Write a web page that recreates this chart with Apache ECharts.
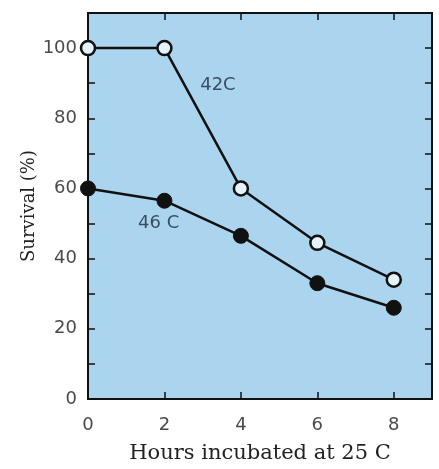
<!DOCTYPE html>
<html><head><meta charset="utf-8">
<script src="https://cdn.jsdelivr.net/npm/echarts@6/dist/echarts.min.js"></script>
<style>html,body{margin:0;padding:0;background:#fff}#c{width:439px;height:469px}</style>
</head><body><div id="c"></div>
<script>
var hours = [0, 2, 4, 6, 8];
var survival42 = [100, 100, 60, 44.5, 34];
var survival46 = [60, 56.5, 46.5, 33, 26];
var yTickLabels = [0, 20, 40, 60, 80, 100];
var xTickLabels = [0, 2, 4, 6, 8];
var seriesNotes = [
  {text: '42C', x: 3.4, y: 89.5},
  {text: '46 C', x: 1.85, y: 50}
];

var chart = echarts.init(document.getElementById('c'));
function tickStyle() { return {show: true, inside: true, length: 7, lineStyle: {color: '#111', width: 1.5}}; }
function lineAx() { return {show: true, onZero: false, lineStyle: {color: '#111', width: 2}}; }
chart.setOption({
  animation: false,
  grid: {left: 88, right: 7, top: 13, bottom: 63, show: true, backgroundColor: '#abd4ee', borderColor: '#111', borderWidth: 2},
  xAxis: [{
    type: 'value', min: 0, max: 9, interval: 2,
    axisLine: lineAx(), axisTick: tickStyle(), splitLine: {show: false},
    axisLabel: {margin: 17, fontFamily: 'DejaVu Sans', fontSize: 18, color: '#4a4a4a',
      formatter: function (v) { return xTickLabels.indexOf(v) >= 0 ? String(v) : ''; }},
    name: 'Hours incubated at 25 C', nameLocation: 'middle', nameGap: 44, nameMoveOverlap: false,
    nameTextStyle: {fontFamily: 'DejaVu Serif', fontSize: 21, color: '#222'}
  }, {
    type: 'value', position: 'top', min: 0, max: 9, interval: 2,
    axisLine: lineAx(), axisTick: tickStyle(), axisLabel: {show: false}, splitLine: {show: false}
  }],
  yAxis: [{
    type: 'value', min: 0, max: 110, interval: 10,
    axisLine: lineAx(), axisTick: tickStyle(), splitLine: {show: false},
    axisLabel: {margin: 11, fontFamily: 'DejaVu Sans', fontSize: 18, color: '#4a4a4a',
      formatter: function (v) { return yTickLabels.indexOf(v) >= 0 ? String(v) : ''; }},
    name: 'Survival (%)', nameLocation: 'middle', nameGap: 50, nameMoveOverlap: false,
    nameTextStyle: {fontFamily: 'DejaVu Serif', fontSize: 18, color: '#222'}
  }, {
    type: 'value', position: 'right', min: 0, max: 110, interval: 10,
    axisLine: lineAx(), axisTick: tickStyle(), axisLabel: {show: false}, splitLine: {show: false}
  }],
  series: [{
    type: 'line', clip: false, z: 3,
    data: hours.map(function (h, i) { return [h, survival46[i]]; }),
    symbol: 'circle', symbolSize: 15,
    lineStyle: {color: '#111', width: 2.5},
    itemStyle: {color: '#111', borderColor: '#111', borderWidth: 1}
  }, {
    type: 'line', clip: false, z: 4,
    data: hours.map(function (h, i) { return [h, survival42[i]]; }),
    symbol: 'circle', symbolSize: 14,
    lineStyle: {color: '#111', width: 2.5},
    itemStyle: {color: '#e4f2fa', borderColor: '#111', borderWidth: 2.5}
  }, {
    type: 'scatter', symbolSize: 0, silent: true,
    data: seriesNotes.map(function (n) { return {value: [n.x, n.y], name: n.text}; }),
    label: {show: true, position: 'inside', formatter: '{b}',
      fontFamily: 'DejaVu Sans', fontSize: 18, color: '#1c2a3a'}
  }]
});
</script></body></html>
